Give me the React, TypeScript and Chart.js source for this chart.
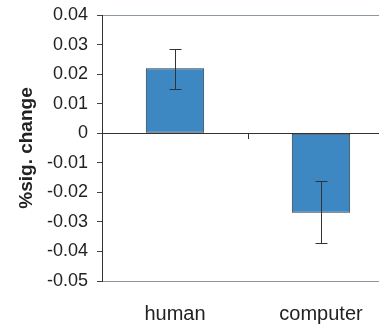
import React, { useEffect, useRef } from "react";
import { Chart, registerables } from "chart.js";

Chart.register(...registerables);

const categories = ["human", "computer"];
const meanValues = [0.022, -0.0269];
const errorHigh = [0.0284, -0.0163];
const errorLow = [0.015, -0.0373];
const yTicks = [0.04, 0.03, 0.02, 0.01, 0, -0.01, -0.02, -0.03, -0.04, -0.05];

const errorBarPlugin = {
  id: "errorBars",
  afterDatasetsDraw(chart: any) {
    const ctx = chart.ctx;
    const xs = chart.scales.x;
    const ys = chart.scales.y;
    ctx.save();
    ctx.strokeStyle = "#333333";
    ctx.lineWidth = 1;
    categories.forEach((_, i) => {
      const x = Math.round(xs.getPixelForValue(i)) + 0.5;
      const yt = Math.round(ys.getPixelForValue(errorHigh[i])) + 0.5;
      const yb = Math.round(ys.getPixelForValue(errorLow[i])) + 0.5;
      ctx.beginPath();
      ctx.moveTo(x, yt);
      ctx.lineTo(x, yb);
      ctx.moveTo(x - 6, yt);
      ctx.lineTo(x + 6, yt);
      ctx.moveTo(x - 6, yb);
      ctx.lineTo(x + 6, yb);
      ctx.stroke();
    });
    const y0 = Math.round(ys.getPixelForValue(0));
    for (let i = 0; i < categories.length - 1; i++) {
      const xm = Math.round((xs.getPixelForValue(i) + xs.getPixelForValue(i + 1)) / 2) + 0.5;
      ctx.beginPath();
      ctx.moveTo(xm, y0);
      ctx.lineTo(xm, y0 + 6);
      ctx.stroke();
    }
    ctx.restore();
  },
};

export default function App() {
  const ref = useRef<HTMLCanvasElement>(null);
  useEffect(() => {
    if (!ref.current) return;
    const chart = new Chart(ref.current, {
      type: "bar",
      data: {
        labels: categories,
        datasets: [
          {
            data: meanValues,
            backgroundColor: "#3d88c2",
            borderColor: "#2a3640",
            borderWidth: 1,
            borderSkipped: false,
            barPercentage: 0.4,
            categoryPercentage: 1,
          },
        ],
      },
      options: {
        responsive: false,
        animation: false,
        layout: { padding: { top: 15, left: 0, right: 0, bottom: 0 } },
        plugins: {
          legend: { display: false },
          tooltip: { enabled: false },
        },
        scales: {
          x: {
            grid: { display: false, drawTicks: false },
            border: { display: false },
            ticks: {
              padding: 21,
              color: "#222222",
              font: { family: "'Liberation Sans', Arial, sans-serif", size: 20 },
            },
            afterFit: (s: any) => {
              s.height = 47;
              s.paddingLeft = 0;
              s.paddingRight = 0;
            },
          },
          y: {
            min: -0.05,
            max: 0.04,
            afterBuildTicks: (s: any) => {
              s.ticks = yTicks.map((v) => ({ value: v }));
            },
            ticks: {
              padding: 9,
              color: "#222222",
              font: { family: "'Liberation Sans', Arial, sans-serif", size: 18 },
              callback: (v: any) => (Math.abs(v) < 1e-9 ? "0" : Number(v).toFixed(2)),
            },
            grid: {
              drawTicks: true,
              tickLength: 5,
              tickColor: "#444444",
              color: (c: any) => {
                const v = c.tick ? c.tick.value : null;
                if (v === null) return "rgba(0,0,0,0)";
                if (Math.abs(v) < 1e-9) return "#333333";
                if (Math.abs(v - 0.04) < 1e-9 || Math.abs(v + 0.05) < 1e-9) return "#8c96a0";
                return "rgba(0,0,0,0)";
              },
            },
            border: { display: true, color: "#333333", width: 1 },
            title: {
              display: true,
              text: "%sig. change",
              color: "#222222",
              padding: { top: 15, bottom: 0 },
              font: { family: "'Liberation Sans', Arial, sans-serif", size: 19, weight: "bold" },
            },
            afterFit: (s: any) => {
              s.width = 102;
              s.paddingTop = 0;
              s.paddingBottom = 0;
            },
          },
        },
      },
      plugins: [errorBarPlugin],
    });
    return () => chart.destroy();
  }, []);
  return (
    <div
      style={{
        position: "fixed",
        left: 0,
        top: 0,
        width: 379,
        height: 328,
        overflow: "hidden",
        background: "#ffffff",
      }}
    >
      <canvas ref={ref} width={394} height={328} style={{ display: "block" }} />
    </div>
  );
}
